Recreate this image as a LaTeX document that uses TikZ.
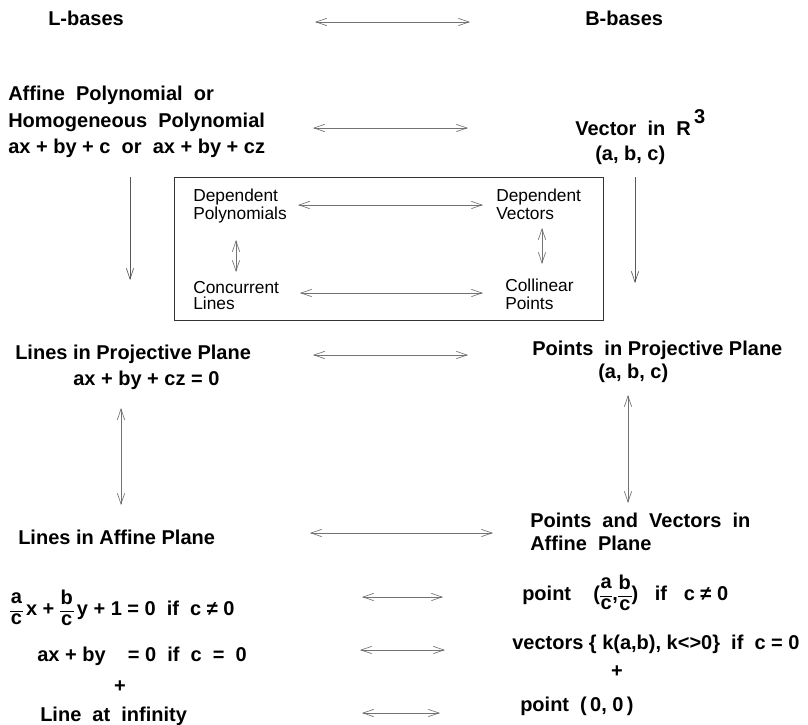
\documentclass[tikz,border=0pt]{standalone}
\usepackage{fontspec}
\setmainfont{Liberation Sans}
\usetikzlibrary{arrows.meta}
% compact stacked fraction set in the surrounding text font
\newcommand\frc[2]{\ensuremath{\vcenter{\hbox{\def\arraystretch{0.8}\setlength\tabcolsep{0.5pt}%
  \begin{tabular}{c}#1\\[1pt]\hline#2\end{tabular}}}}}
\tikzset{
  lbl/.style={font=\fontsize{15}{18}\selectfont\bfseries, inner sep=0pt, anchor=base west},
  boxlbl/.style={font=\fontsize{13}{15}\selectfont, inner sep=0pt, anchor=base west},
  tipV/.tip={Straight Barb[length=8pt,width=5.5pt]},
  link/.style={draw=black!55, line width=0.5pt, tipV-tipV},
  down/.style={draw=black!65, line width=0.5pt, -tipV},
  frame/.style={draw=black!80, line width=0.6pt},
}
\begin{document}
\begin{tikzpicture}[x=0.75pt,y=-0.75pt]
\useasboundingbox (0,0) rectangle (808,725);

% headings
\node[lbl] (lb) at (48,25) {L-bases};
\node[lbl] (bb) at (585,25) {B-bases};
\coordinate (h1) at (315,22); \coordinate (h2) at (470,22);
\draw[link] (h1) -- (h2);

% polynomials and vectors
\node[lbl] (aff)  at (8,100) {Affine\ \ Polynomial\ \ or};
\node[lbl] (hom)  at (8,127) {Homogeneous\ \ Polynomial};
\node[lbl] (poly) at (8,153) {ax + by + c\ \ or\ \ ax + by + cz};
\node[lbl] (vec)  at (575,135) {Vector\ \ in\ \ R\,\raisebox{9pt}{3}};
\node[lbl] (abc1) at (595,160) {(a, b, c)};
\coordinate (p1) at (313,128); \coordinate (p2) at (468,128);
\draw[link] (p1) -- (p2);

% framed block
\node[frame, inner sep=0pt, minimum width=429*0.75pt, minimum height=143*0.75pt, anchor=north west] (blk) at (174,177) {};
\node[boxlbl] (dp1) at (193,201) {Dependent};
\node[boxlbl] (dp2) at (193,219) {Polynomials};
\node[boxlbl] (dv1) at (496,201) {Dependent};
\node[boxlbl] (dv2) at (496,219) {Vectors};
\node[boxlbl] (cl1) at (193,293) {Concurrent};
\node[boxlbl] (cl2) at (193,309) {Lines};
\node[boxlbl] (cp1) at (505,291) {Collinear};
\node[boxlbl] (cp2) at (505,309) {Points};
\coordinate (d1) at (298,205); \coordinate (d2) at (483,205);
\coordinate (c1) at (300,293); \coordinate (c2) at (483,293);
\coordinate (s1) at (236,240); \coordinate (s2) at (236,272);
\coordinate (s3) at (542,228); \coordinate (s4) at (542,264);
\draw[link] (d1) -- (d2);
\draw[link] (c1) -- (c2);
\draw[link] (s1) -- (s2);
\draw[link] (s3) -- (s4);

% vertical maps down to the projective plane
\coordinate (v1) at (130,177); \coordinate (v2) at (130,280);
\coordinate (v3) at (635,177); \coordinate (v4) at (635,283);
\draw[down] (v1) -- (v2);
\draw[down] (v3) -- (v4);

% projective plane
\node[lbl] (lpp)  at (15,359) {Lines in Projective Plane};
\node[lbl] (eq)   at (73,385) {ax + by + cz = 0};
\node[lbl] (ppp)  at (532,355) {Points\ \ in Projective Plane};
\node[lbl] (abc2) at (598,378) {(a, b, c)};
\coordinate (q1) at (313,355); \coordinate (q2) at (468,355);
\draw[link] (q1) -- (q2);
\coordinate (u1) at (121,408); \coordinate (u2) at (121,505);
\coordinate (u3) at (628,395); \coordinate (u4) at (628,503);
\draw[link] (u1) -- (u2);
\draw[link] (u3) -- (u4);

% affine plane
\node[lbl] (lap) at (18,544) {Lines in Affine Plane};
\node[lbl] (pva) at (530,527) {Points\ \ and\ \ Vectors\ \ in};
\node[lbl] (ap)  at (530,550) {Affine\ \ Plane};
\coordinate (a1) at (310,533); \coordinate (a2) at (493,533);
\draw[link] (a1) -- (a2);

% cases
\node[lbl] (lnf) at (10,615) {\frc{a}{c}\,x + \frc{b}{c}\,y + 1 = 0\ \ if\ \ c ≠ 0};
\node[lbl] (ptf) at (522,600) {point\ \ \ \ (\frc{a}{c},\frc{b}{c})\ \ \ if\ \ \ c ≠ 0};
\coordinate (r1) at (362,597); \coordinate (r2) at (443,597);
\draw[link] (r1) -- (r2);

\node[lbl] (lnz) at (37,661) {ax + by\ \ \ \ = 0\ \ if\ \ c\ \ =\ \ 0};
\node[lbl] (vcz) at (512,649) {vectors \{ k(a,b), k<>0\}\ \ if\ \ c = 0};
\coordinate (r3) at (360,650); \coordinate (r4) at (445,650);
\draw[link] (r3) -- (r4);

\node[lbl, anchor=center] (pl1) at (120,687) {+};
\node[lbl, anchor=center] (pl2) at (617,672) {+};

\node[lbl] (lai) at (40,721) {Line\ \ at\ \ infinity};
\node[lbl] (p00) at (520,711) {point\ \ (\,0, 0\,)};
\coordinate (r5) at (362,713); \coordinate (r6) at (440,713);
\draw[link] (r5) -- (r6);
\end{tikzpicture}
\end{document}
